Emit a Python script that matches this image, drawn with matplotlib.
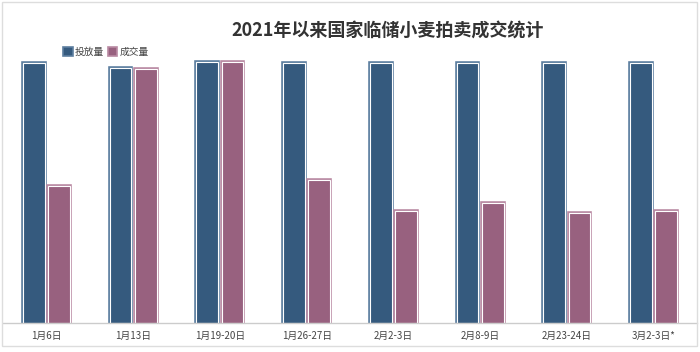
import matplotlib.pyplot as plt
import numpy as np
from matplotlib.patches import Rectangle
from matplotlib.lines import Line2D

plt.rcParams['font.family'] = ['Noto Sans CJK SC', 'DejaVu Sans']

# data (arbitrary units)
dates = ['1月6日', '1月13日', '1月19-20日', '1月26-27日',
         '2月2-3日', '2月8-9日', '2月23-24日', '3月2-3日*']
supply = [260, 255, 261, 260, 260, 260, 260, 260]
deals = [137, 254, 261, 143, 112, 120, 110, 112]

blue = '#355a7e'
blue_edge = '#5d7fa0'
pink = '#98617f'
pink_edge = '#b98aa3'

fig = plt.figure(figsize=(7, 3.52), dpi=100)
ax = fig.add_axes([3 / 700, 29 / 352, 694 / 700, 283 / 352])

x = np.arange(len(dates))
w = 0.25
off = 0.145

# outer coloured edge, then fill with white inner line
ax.bar(x - off, supply, w, color=blue, edgecolor=blue_edge, linewidth=2.6)
ax.bar(x - off, supply, w, color=blue, edgecolor='white', linewidth=0.8)
ax.bar(x + off, deals, w, color=pink, edgecolor=pink_edge, linewidth=2.6)
ax.bar(x + off, deals, w, color=pink, edgecolor='white', linewidth=0.8)

ax.set_xlim(-0.5, len(dates) - 0.5)
ax.set_ylim(0, 283)
ax.set_xticks(x)
ax.set_xticklabels(dates, fontsize=7, color='#444444')
ax.tick_params(axis='x', length=0, pad=6)
ax.set_yticks([])
for s in ['top', 'left', 'right']:
    ax.spines[s].set_visible(False)
ax.spines['bottom'].set_color('#cccccc')
ax.spines['bottom'].set_linewidth(1)

# title
fig.text(388 / 700, 1 - 30 / 352, '2021年以来国家临储小麦拍卖成交统计',
         ha='center', va='center', fontsize=13, fontweight='bold', color='#333333')

# legend
handles = [Rectangle((0, 0), 1, 1, facecolor=blue, edgecolor=blue_edge, linewidth=1.2),
           Rectangle((0, 0), 1, 1, facecolor=pink, edgecolor=pink_edge, linewidth=1.2)]
fig.legend(handles, ['投放量', '成交量'], loc='center left',
           bbox_to_anchor=(58 / 700, 1 - 52 / 352), ncol=2, frameon=False,
           fontsize=7, handlelength=1.0, handleheight=1.0, handletextpad=0.2,
           columnspacing=0.4, borderpad=0, labelcolor='#444444')

# outer frame
fig.add_artist(Rectangle((2 / 700, 6 / 352), 695 / 700, 344 / 352, transform=fig.transFigure,
                         fill=False, edgecolor='#dddddd', linewidth=1))

fig.savefig('out.png', dpi=100)
